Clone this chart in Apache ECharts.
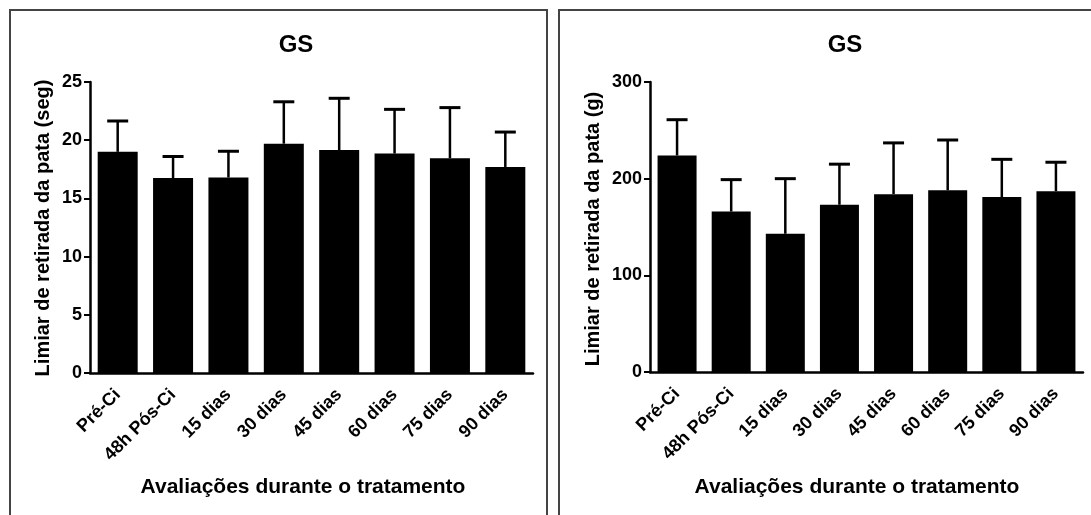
<!DOCTYPE html>
<html>
<head>
<meta charset="utf-8">
<script src="https://cdn.jsdelivr.net/npm/echarts@6/dist/echarts.min.js"></script>
<style>
  html, body { margin: 0; padding: 0; background: #fff; }
  #chart { width: 1091px; height: 515px; }
</style>
</head>
<body>
<div id="chart"></div>
<script>
// Evaluation time points
const categories = ['Pré-Ci', '48h Pós-Ci', '15 dias', '30 dias', '45 dias', '60 dias', '75 dias', '90 dias'];

// Withdrawal latency (seconds): mean and SD
const segMean = [19.0, 16.75, 16.8, 19.7, 19.15, 18.85, 18.45, 17.7];
const segSD   = [2.65, 1.85, 2.25, 3.6, 4.45, 3.8, 4.35, 3.0];

// Withdrawal threshold (grams): mean and SD
const gMean = [224, 166, 143, 173, 184, 188, 181, 187];
const gSD   = [37, 33, 57, 42, 53, 52, 39, 30];

// Axis tick settings
const segTicks = { min: 0, max: 25, interval: 5 };
const gTicks   = { min: 0, max: 300, interval: 100 };

const FONT = "'Liberation Sans', Arial, sans-serif";

const chart = echarts.init(document.getElementById('chart'), null, { renderer: 'canvas' });

function xAxisCfg(gridIndex) {
  return {
    type: 'category',
    gridIndex,
    data: categories,
    axisLine: { lineStyle: { color: '#000', width: 2.5 } },
    axisTick: { alignWithLabel: true, length: 9, lineStyle: { color: '#000', width: 2.5 } },
    axisLabel: {
      interval: 0, rotate: 45, margin: 19,
      color: '#000', fontFamily: FONT, fontWeight: 'bold', fontSize: 18
    }
  };
}

function yAxisCfg(gridIndex, t) {
  return {
    type: 'value',
    gridIndex,
    min: t.min, max: t.max, interval: t.interval,
    splitLine: { show: false },
    axisLine: { show: true, lineStyle: { color: '#000', width: 2.5 } },
    axisTick: { show: true, length: 6, lineStyle: { color: '#000', width: 2 } },
    axisLabel: { margin: 8, color: '#000', fontFamily: FONT, fontWeight: 'bold', fontSize: 18 }
  };
}

// Upper error whisker with cap, placed through the axis scales
function errorBars(idx, means, sds) {
  return {
    type: 'custom',
    xAxisIndex: idx, yAxisIndex: idx,
    z: 3,
    data: means.map((m, i) => [i, m, m + sds[i]]),
    renderItem: function (params, api) {
      const base = api.coord([api.value(0), api.value(1)]);
      const top = api.coord([api.value(0), api.value(2)]);
      const half = 10.5;
      return {
        type: 'group',
        children: [
          { type: 'line', shape: { x1: base[0], y1: base[1], x2: top[0], y2: top[1] }, style: { stroke: '#000', lineWidth: 2.5 } },
          { type: 'line', shape: { x1: top[0] - half, y1: top[1], x2: top[0] + half, y2: top[1] }, style: { stroke: '#000', lineWidth: 3 } }
        ]
      };
    }
  };
}

function titleText(x, y, text, size) {
  return {
    type: 'text', x, y,
    style: { text, fill: '#000', font: `bold ${size}px ${FONT}`, align: 'center', verticalAlign: 'middle' }
  };
}

function vText(x, y, text, size) {
  return {
    type: 'text', x, y, rotation: Math.PI / 2,
    style: { text, fill: '#000', font: `bold ${size}px ${FONT}`, align: 'center', verticalAlign: 'middle' }
  };
}

chart.setOption({
  animation: false,
  backgroundColor: '#fff',
  grid: [
    { left: 90, top: 82, width: 443, height: 291 },
    { left: 650, top: 82, width: 433, height: 290 }
  ],
  xAxis: [xAxisCfg(0), xAxisCfg(1)],
  yAxis: [yAxisCfg(0, segTicks), yAxisCfg(1, gTicks)],
  series: [
    {
      type: 'bar', xAxisIndex: 0, yAxisIndex: 0,
      data: segMean, barWidth: 40,
      itemStyle: { color: '#000' }
    },
    errorBars(0, segMean, segSD),
    {
      type: 'bar', xAxisIndex: 1, yAxisIndex: 1,
      data: gMean, barWidth: 39,
      itemStyle: { color: '#000' }
    },
    errorBars(1, gMean, gSD)
  ],
  graphic: [
    // panel frames
    { type: 'rect', shape: { x: 10, y: 10, width: 537, height: 520 }, style: { fill: 'none', stroke: '#444', lineWidth: 2 } },
    { type: 'rect', shape: { x: 559, y: 10, width: 540, height: 520 }, style: { fill: 'none', stroke: '#444', lineWidth: 2 } },
    titleText(296, 45, 'GS', 24),
    titleText(845, 45, 'GS', 24),
    vText(43, 228, 'Limiar de retirada da pata (seg)', 20),
    vText(593, 229, 'Limiar de retirada da pata (g)', 20),
    titleText(303, 487, 'Avaliações durante o tratamento', 21),
    titleText(857, 487, 'Avaliações durante o tratamento', 21)
  ]
});
</script>
</body>
</html>
